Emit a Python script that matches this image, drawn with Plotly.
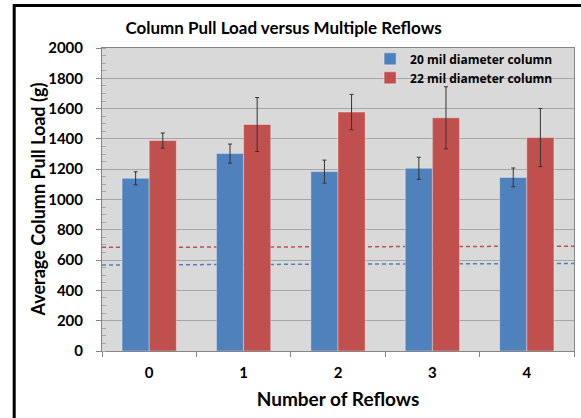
import plotly.graph_objects as go

categories = ["0", "1", "2", "3", "4"]
load_20mil = [1140, 1303, 1184, 1206, 1146]
err_20mil = [43, 63, 76, 73, 62]
load_22mil = [1389, 1495, 1577, 1539, 1409]
err_22mil = [50, 178, 117, 205, 192]
# dashed reference levels (left end, right end)
ref_20mil = [568, 578]
ref_22mil = [684, 692]

BLUE = "#4F81BD"
RED = "#C0504D"
FONT = "Lato"

fig = go.Figure()
fig.add_trace(go.Bar(
    name="<b>20 mil diameter column</b>", x=categories, y=load_20mil,
    marker=dict(color=BLUE, line=dict(color="rgba(255,255,255,0.35)", width=1)),
    error_y=dict(type="data", array=err_20mil, color="#333333", thickness=1, width=2),
))
fig.add_trace(go.Bar(
    name="<b>22 mil diameter column</b>", x=categories, y=load_22mil,
    marker=dict(color=RED, line=dict(color="rgba(255,255,255,0.35)", width=1)),
    error_y=dict(type="data", array=err_22mil, color="#333333", thickness=1, width=2),
))

for ref, col in ((ref_20mil, BLUE), (ref_22mil, RED)):
    fig.add_shape(type="line", xref="paper", yref="y", x0=0, x1=1,
                  y0=ref[0], y1=ref[1], layer="between",
                  line=dict(color=col, width=1.5, dash="4px,3px"))

# outer black frame
fig.add_shape(type="rect", xref="paper", yref="paper",
              x0=-0.186, x1=1.2, y0=-0.5, y1=1.14,
              line=dict(color="black", width=3), fillcolor="rgba(0,0,0,0)",
              layer="above")

# y-axis title placed as rotated annotation
fig.add_annotation(text="<b>Average Column Pull Load (g)</b>", xref="paper", yref="paper",
                   x=-0.1356, y=0.5, xanchor="center", yanchor="middle",
                   textangle=-90, showarrow=False,
                   font=dict(size=18, family=FONT, color="black"))

fig.update_layout(
    width=581, height=418,
    margin=dict(l=102, r=7, t=48, b=67, autoexpand=False),
    paper_bgcolor="white", plot_bgcolor="#D9D9D9",
    barmode="group", bargap=0.425, bargroupgap=0,
    font=dict(family=FONT, color="black"),
    title=dict(text="<b>Column Pull Load versus Multiple Reflows</b>",
               x=0.488, xanchor="center", y=0.933, yanchor="middle",
               font=dict(size=17, family=FONT, color="black")),
    legend=dict(x=0.568, xanchor="left", y=1.012, yanchor="top",
                bgcolor="rgba(0,0,0,0)", borderwidth=0,
                font=dict(size=12, family="Open Sans", color="black"),
                tracegroupgap=0, itemwidth=30),
    showlegend=True,
)
fig.update_xaxes(
    type="category", tickson="boundaries", ticks="outside", ticklen=5,
    tickcolor="#868686", showline=True, linecolor="#868686", mirror=True,
    showgrid=False, automargin=False, ticklabelstandoff=8,
    tickfont=dict(size=15, family=FONT, color="black"),
    tickprefix="<b>", ticksuffix="</b>",
    title=dict(text="<b>Number of Reflows</b>", standoff=12,
               font=dict(size=19, family=FONT, color="black")),
)
fig.update_yaxes(
    range=[0, 2000], dtick=200, tick0=0, ticks="outside", ticklen=5,
    tickcolor="#868686", showline=True, linecolor="#868686", mirror=True,
    showgrid=True, gridcolor="#A6A6A6", gridwidth=1, zeroline=False,
    automargin=False, ticklabelstandoff=10,
    minor=dict(dtick=50, ticks="inside", ticklen=4, tickcolor="#A6A6A6", showgrid=False),
    tickfont=dict(size=15, family=FONT, color="black"),
    tickformat="d", tickprefix="<b>", ticksuffix="</b>",
)

fig.write_html("out.html", config={"displayModeBar": False},
               post_script="document.body.style.margin='0';document.body.style.overflow='hidden';")
